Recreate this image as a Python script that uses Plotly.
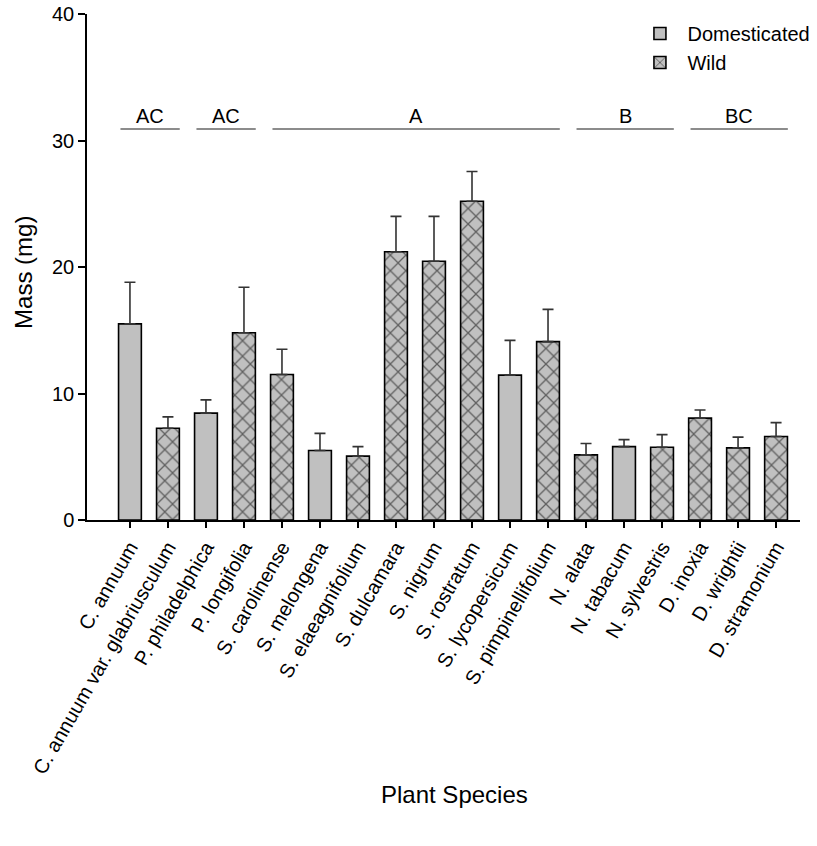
import plotly.graph_objects as go

# Species, mean mass (mg), upper error and status
species = [
    "C. annuum", "C. annuum var. glabriusculum", "P. philadelphica", "P. longifolia",
    "S. carolinense", "S. melongena", "S. elaeagnifolium", "S. dulcamara",
    "S. nigrum", "S. rostratum", "S. lycopersicum", "S. pimpinellifolium",
    "N. alata", "N. tabacum", "N. sylvestris", "D. inoxia", "D. wrightii", "D. stramonium",
]
mass = [15.5, 7.25, 8.45, 14.8, 11.5, 5.5, 5.05, 21.2, 20.45, 25.2, 11.45, 14.1,
        5.15, 5.8, 5.75, 8.05, 5.7, 6.6]
err = [3.3, 0.9, 1.05, 3.6, 2.0, 1.35, 0.75, 2.8, 3.55, 2.35, 2.75, 2.55,
       0.9, 0.55, 1.0, 0.65, 0.85, 1.1]
domesticated = [True, False, True, False, False, True, False, False, False, False,
                True, False, False, True, False, False, False, False]

# Significance groups: label, first index, last index
group_labels = ["AC", "AC", "A", "B", "BC"]
group_start = [0, 2, 4, 12, 15]
group_end = [1, 3, 11, 14, 17]
group_y = 30.9

FONT = "Liberation Sans, Arial, sans-serif"
BAR_GRAY = "#c0c0c0"


def pick(flag):
    ys = [m if d == flag else None for m, d in zip(mass, domesticated)]
    es = [e if d == flag else 0 for e, d in zip(err, domesticated)]
    return ys, es


fig = go.Figure()
for name, flag, pattern in [("Domesticated", True, ""), ("Wild", False, "x")]:
    ys, es = pick(flag)
    fig.add_trace(go.Bar(
        x=species, y=ys, name=name, width=0.6,
        marker=dict(
            color=BAR_GRAY,
            line=dict(color="black", width=1.6),
            pattern=dict(shape=pattern, fgcolor="black", bgcolor=BAR_GRAY,
                         size=11, solidity=0.22, fillmode="overlay"),
        ),
        error_y=dict(type="data", array=es, arrayminus=[0] * len(es),
                     symmetric=False, color="#333333", thickness=1.6, width=5.5),
    ))

shapes = []
annotations = []
for lab, s, e in zip(group_labels, group_start, group_end):
    x0, x1 = s - 0.25, e + 0.31
    shapes.append(dict(type="line", xref="x", yref="y", x0=x0, x1=x1,
                       y0=group_y, y1=group_y, line=dict(color="#666666", width=1.5)))
    annotations.append(dict(xref="x", yref="y", x=(x0 + x1) / 2, y=group_y,
                            text=lab, showarrow=False, xanchor="center",
                            yanchor="bottom", yshift=0,
                            font=dict(family=FONT, size=20, color="black")))

annotations.append(dict(xref="paper", yref="paper", x=0.515, y=-0.543,
                        xanchor="center", yanchor="middle",
                        text="Plant Species", showarrow=False,
                        font=dict(family=FONT, size=24, color="black")))
annotations.append(dict(xref="paper", yref="paper", x=-0.09, y=0.49,
                        xanchor="center", yanchor="middle",
                        text="Mass (mg)", showarrow=False, textangle=-90,
                        font=dict(family=FONT, size=24, color="black")))

fig.update_layout(
    width=817, height=846,
    margin=dict(l=87, r=17, t=14, b=326, autoexpand=False),
    paper_bgcolor="white", plot_bgcolor="white",
    barmode="overlay",
    font=dict(family=FONT, size=20, color="black"),
    showlegend=True,
    legend=dict(x=0.765, y=1.0, xanchor="left", yanchor="top",
                bgcolor="rgba(0,0,0,0)", font=dict(family=FONT, size=20),
                itemwidth=45, tracegroupgap=0),
    shapes=shapes,
    annotations=annotations,
)
fig.update_xaxes(
    type="category", range=[-1.13, 17.63],
    showline=True, linecolor="black", linewidth=1.5,
    ticks="outside", ticklen=6, tickwidth=1.5, tickcolor="black",
    tickangle=-60, tickfont=dict(family=FONT, size=20, color="black"),
    showgrid=False, zeroline=False,
)
fig.update_yaxes(
    range=[0, 40], dtick=10,
    showline=True, linecolor="black", linewidth=1.5,
    ticks="outside", ticklen=7, tickwidth=1.5, tickcolor="black",
    tickfont=dict(family=FONT, size=20, color="black"),
    showgrid=False, zeroline=False,
)

fig.write_html("out.html")
